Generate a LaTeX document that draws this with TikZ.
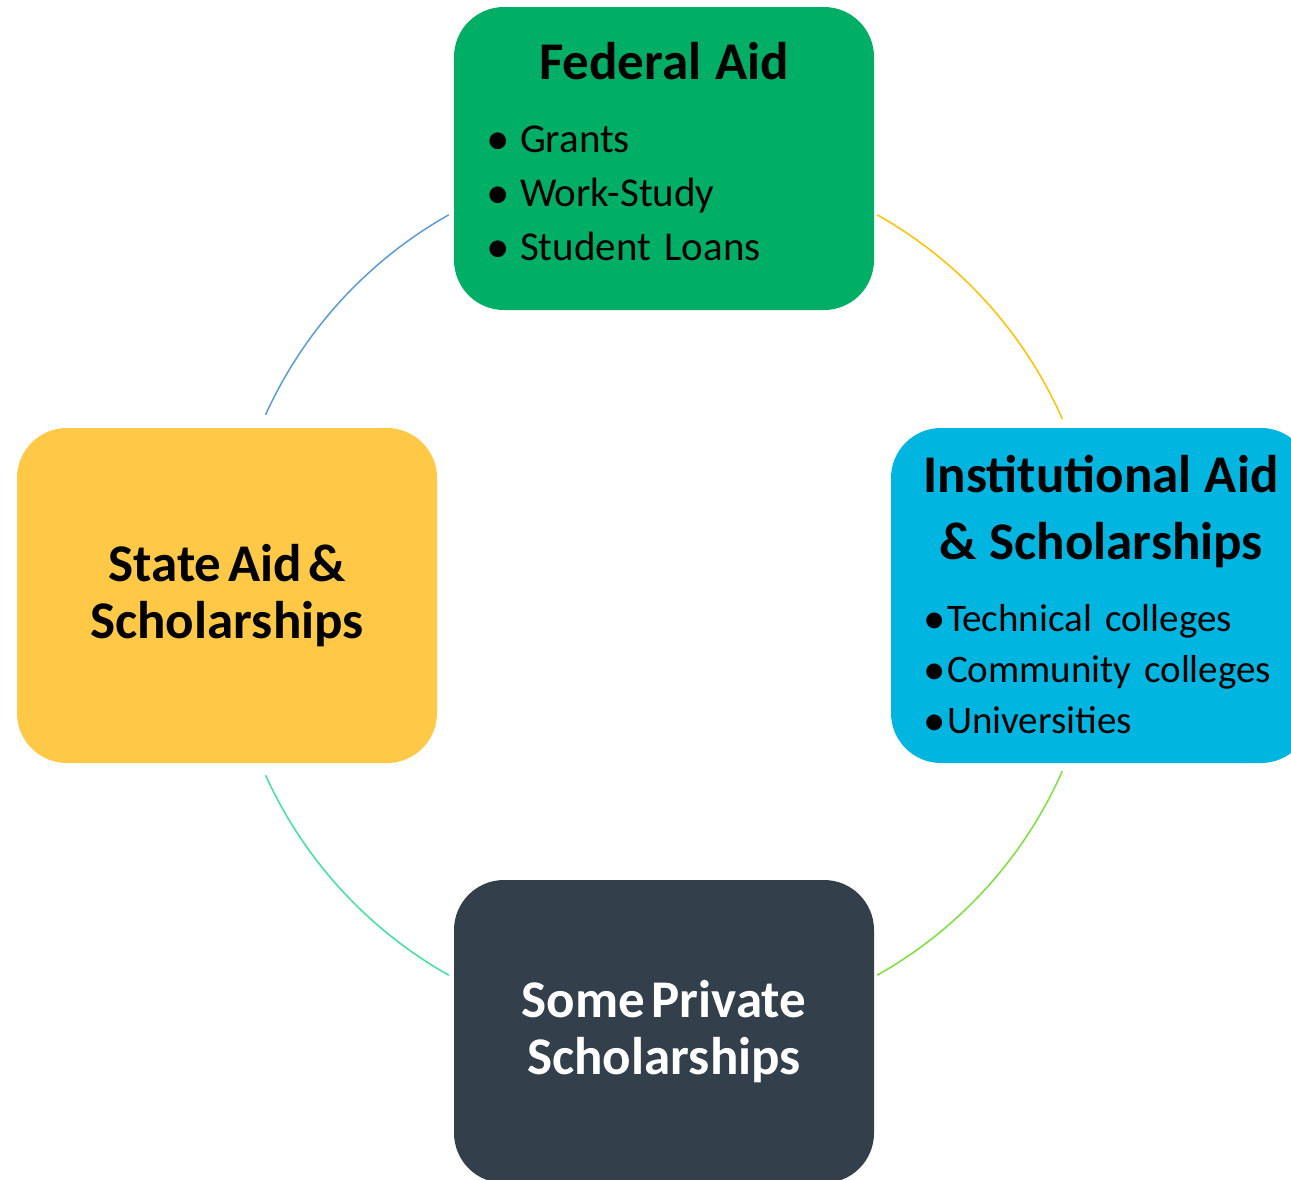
\documentclass[tikz,border=0pt]{standalone}
\usepackage{fontspec}
\setmainfont{Carlito}
\usepackage{tikz}
\usetikzlibrary{positioning}
\setlength{\parindent}{0pt}
\setlength{\parskip}{0pt}

\definecolor{fedgreen}{HTML}{00AE65}
\definecolor{stateyellow}{HTML}{FFC846}
\definecolor{instcyan}{HTML}{00B5E0}
\definecolor{privslate}{HTML}{333F4A}
\definecolor{arcblue}{HTML}{5B9BD5}
\definecolor{arcgold}{HTML}{FFC000}
\definecolor{arclime}{HTML}{7AE03A}
\definecolor{arcmint}{HTML}{40E0A0}

\newcommand{\boxtitle}[1]{{\centering\bfseries\fontsize{26.5}{28.8}\selectfont #1\par}}
\newcommand{\aiditem}[2][17pt]{\makebox[#1][l]{\raisebox{-0.05em}{\scalebox{1.15}{\textbullet}}}#2}

\begin{document}
\begin{tikzpicture}[x=0.5pt, y=-0.5pt]
  \tikzstyle{aid box} = [rounded corners=25pt, inner xsep=16pt, inner ysep=0pt, text width=178pt, minimum width=210pt]
  \tikzstyle{arc line} = [line width=0.75pt]
  \clip (0,0) rectangle (1291,1179);

  %Define nodes
  \coordinate (hub) at (663,595);
  \node[aid box, fill=fedgreen, minimum height=151.5pt, font=\fontsize{20.5}{27}\selectfont] (federal) at (664,158.5) {%
    \boxtitle{Federal Aid}\vspace{9.5pt}
    {\raggedright
    \aiditem{Grants}\\
    \aiditem{Work-Study}\\
    \aiditem{Student Loans}\rule[-7pt]{0pt}{7pt}\par}};
  \node[aid box, fill=stateyellow, minimum height=167.5pt] (state) at (227,595.5) {\boxtitle{State Aid \&\\Scholarships}};
  \node[aid box, fill=instcyan, minimum height=167.5pt, font=\fontsize{19.5}{25.5}\selectfont] (inst) at (1101,595.5) {%
    \vspace*{5pt}\boxtitle{Institutional Aid\\\& Scholarships}\vspace{10.5pt}
    {\raggedright
    \aiditem[12pt]{Technical colleges}\\
    \aiditem[12pt]{Community colleges}\\
    \aiditem[12pt]{Universities}\par}};
  \node[aid box, fill=privslate, text=white, minimum height=151.5pt] (private) at (664,1031.5) {\boxtitle{Some Private\\Scholarships}};

  % Arcs round the hub
  \draw[arc line, arcblue] (hub) ++(119.4:218.2pt) arc[start angle=119.4, end angle=155.6, radius=218.2pt];
  \draw[arc line, arcgold] (hub) ++(60.6:218.2pt) arc[start angle=60.6, end angle=23.8, radius=218.2pt];
  \draw[arc line, arclime] (hub) ++(-23.8:218.2pt) arc[start angle=-23.8, end angle=-60.6, radius=218.2pt];
  \draw[arc line, arcmint] (hub) ++(-155.6:218.2pt) arc[start angle=-155.6, end angle=-119.4, radius=218.2pt];

\end{tikzpicture}
\end{document}
